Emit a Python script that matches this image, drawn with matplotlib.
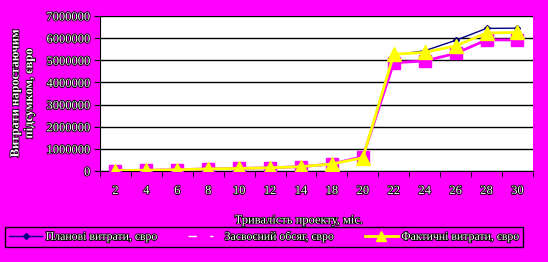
import numpy as np
import matplotlib
matplotlib.use("Agg")
import matplotlib.pyplot as plt
import matplotlib.patheffects as pe
from matplotlib.lines import Line2D

months = ["2", "4", "6", "8", "10", "12", "14", "18", "20", "22", "24", "26", "28", "30"]
planned = [20000, 40000, 60000, 100000, 120000, 150000, 200000, 320000, 620000,
           5240000, 5430000, 5900000, 6440000, 6450000]
earned = [20000, 40000, 60000, 100000, 120000, 150000, 200000, 320000, 650000,
          4890000, 4970000, 5310000, 5920000, 5920000]
actual = [20000, 40000, 60000, 100000, 120000, 150000, 200000, 320000, 600000,
          5270000, 5360000, 5650000, 6230000, 6260000]

magenta = "#FF00FF"
outline = [pe.withStroke(linewidth=1.2, foreground="black")]
plt.rcParams["font.family"] = ["Liberation Serif", "DejaVu Serif"]

fig = plt.figure(figsize=(5.48, 2.62), dpi=100, facecolor=magenta)
ax = fig.add_axes([0.1825, 0.347, 0.79, 0.592])
ax.set_facecolor("white")

x = np.arange(len(months))
ax.plot(x, planned, color="#000080", lw=1, marker="D", ms=3, zorder=3)
ax.plot(x, earned, color=magenta, lw=2, marker="s", ms=8, zorder=4)
ax.plot(x, actual, color="yellow", lw=2, marker="^", ms=10, zorder=5)

ax.set_xlim(-0.5, len(months) - 0.5)
ax.set_ylim(0, 7000000)
ax.set_yticks(np.arange(0, 7000001, 1000000))
ax.set_yticklabels([str(v) for v in range(0, 7000001, 1000000)])
ax.set_xticks(x)
ax.set_xticklabels(months)
ax.set_xticks(np.arange(-0.5, len(months)), minor=True)
ax.tick_params(axis="x", which="major", length=0, pad=10)
ax.tick_params(axis="x", which="minor", length=4, color="black", direction="out")
ax.tick_params(axis="y", length=4, color="black", direction="out", pad=3)
ax.grid(axis="y", color="black", lw=1)
ax.set_axisbelow(True)
for s in ["top", "right"]:
    ax.spines[s].set_visible(False)
for s in ["left", "bottom"]:
    ax.spines[s].set_color("black")

for lab in ax.get_xticklabels() + ax.get_yticklabels():
    lab.set_color("white")
    lab.set_fontsize(9)
    lab.set_path_effects(outline)

ax.set_xlabel("Тривалість проекту, міс.", color="white", fontsize=9,
              path_effects=outline)
ax.xaxis.set_label_coords(0.46, -0.28)
ax.set_ylabel("Витрати наростаючим\nпідсумком, євро", color="white", fontsize=9,
              fontweight="bold", path_effects=outline, labelpad=8)

handles = [
    Line2D([], [], color="#000080", lw=1, marker="D", ms=3),
    Line2D([], [], color="white", lw=1, ls=(0, (6, 6)), marker="s", ms=6,
           mfc=magenta, mec=magenta),
    Line2D([], [], color="yellow", lw=2, marker="^", ms=7),
]
names = ["Планові витрати, євро", "Засвоєний обсяг, євро", "Фактичні витрати, євро"]
leg = fig.legend(handles, names, loc="lower left",
                 bbox_to_anchor=(5 / 548, 15 / 262, 518 / 548, 25 / 262),
                 mode="expand", ncol=3, frameon=True, fancybox=False,
                 edgecolor="black", facecolor=magenta, fontsize=8.5,
                 handlelength=2.8, handletextpad=0.3, borderaxespad=0,
                 borderpad=0.35)
leg.get_frame().set_linewidth(1)
leg.get_frame().set_alpha(1)
for t in leg.get_texts():
    t.set_color("white")
    t.set_path_effects(outline)

fig.savefig("out.png", dpi=100, facecolor=magenta)
